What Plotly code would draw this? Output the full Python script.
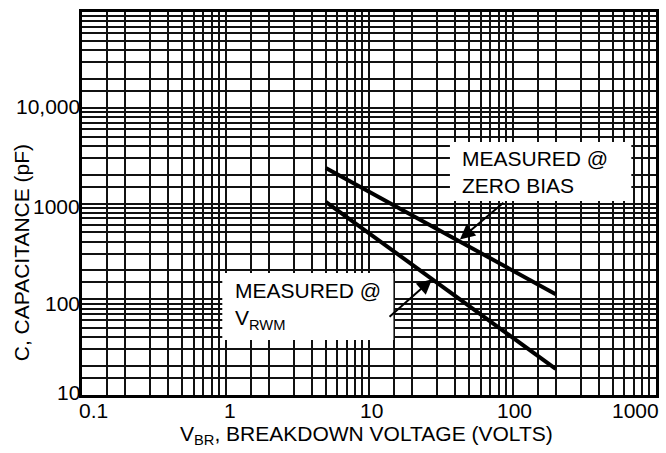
import math
import plotly.graph_objects as go

# ---------------- data ----------------
zero_bias_vbr = [5, 200]
zero_bias_cap = [2350, 113]
vrwm_vbr = [5, 200]
vrwm_cap = [1040, 18.7]

x_tick_vals = [0.1, 1, 10, 100, 1000]
x_tick_text = ["0.1", "1", "10", "100", "1000"]
y_tick_vals = [10, 100, 1000, 10000]
y_tick_text = ["10", "100", "1000", "10,000"]
grid_multipliers = [1.5, 2, 3, 4, 5, 6, 7, 8, 9]
x_decades = [0.1, 1, 10, 100]
y_decades = [10, 100, 1000, 10000]

zero_label = "MEASURED @<br>ZERO BIAS"
vrwm_label = "MEASURED @<br>V<sub>RWM</sub>"
zero_arrow_tip = (43, 420)
vrwm_arrow_tip = (27.5, 162)

x_title = "V<sub>BR</sub>, BREAKDOWN VOLTAGE (VOLTS)"
y_title = "C, CAPACITANCE (pF)"

# ---------------- styling ----------------
FONT = "Liberation Sans, Arial, Helvetica, sans-serif"
FS = 21
GRID_COLOR = "#111111"
GRID_W = 1.6

x_minor = [d * m for d in x_decades for m in grid_multipliers]
y_minor = [d * m for d in y_decades for m in grid_multipliers]

fig = go.Figure()
fig.add_trace(go.Scatter(x=zero_bias_vbr, y=zero_bias_cap, mode="lines",
                         line=dict(color="black", width=4), showlegend=False, hoverinfo="skip"))
fig.add_trace(go.Scatter(x=vrwm_vbr, y=vrwm_cap, mode="lines",
                         line=dict(color="black", width=4), showlegend=False, hoverinfo="skip"))

axis_common = dict(
    type="log", showline=True, mirror=True, linecolor="black", linewidth=2.6,
    ticks="", showticklabels=False, zeroline=False,
    showgrid=True, gridcolor=GRID_COLOR, gridwidth=GRID_W,
)
fig.update_xaxes(range=[-1, 3], tickmode="array", tickvals=x_tick_vals,
                 minor=dict(tickmode="array", tickvals=x_minor, showgrid=True,
                            gridcolor=GRID_COLOR, gridwidth=GRID_W, ticks=""),
                 **axis_common)
fig.update_yaxes(range=[1, 5], tickmode="array", tickvals=y_tick_vals + [100000],
                 minor=dict(tickmode="array", tickvals=y_minor, showgrid=True,
                            gridcolor=GRID_COLOR, gridwidth=GRID_W, ticks=""),
                 **axis_common)

annotations = []
# x tick labels
x_anchor = ["left", "center", "center", "center", "right"]
x_shift = [-5, 4, 2.5, 2, 5]
for v, t, a, s in zip(x_tick_vals, x_tick_text, x_anchor, x_shift):
    annotations.append(dict(x=math.log10(v), y=-0.041, xref="x", yref="paper",
                            text=t, showarrow=False, xanchor=a, yanchor="middle",
                            xshift=s, font=dict(family=FONT, size=FS, color="black")))
# y tick labels
y_shift = [3, -4, -3, 1]
for v, t, s in zip(y_tick_vals, y_tick_text, y_shift):
    annotations.append(dict(x=0, y=math.log10(v), xref="paper", yref="y",
                            text=t, showarrow=False, xanchor="right", yanchor="middle",
                            xshift=0, yshift=s, font=dict(family=FONT, size=FS, color="black")))
# axis titles
annotations.append(dict(x=0.4965, y=-0.1044, xref="paper", yref="paper", text=x_title,
                        showarrow=False, xanchor="center", yanchor="middle",
                        font=dict(family=FONT, size=FS, color="black")))
annotations.append(dict(x=-0.104, y=0.3708, xref="paper", yref="paper", text=y_title,
                        showarrow=False, xanchor="center", yanchor="middle", textangle=-90,
                        font=dict(family=FONT, size=FS, color="black")))
# callout labels
annotations.append(dict(x=0.6577, y=0.5822, xref="paper", yref="paper", text=zero_label,
                        showarrow=False, xanchor="left", yanchor="middle", align="left",
                        font=dict(family=FONT, size=FS, color="black")))
annotations.append(dict(x=0.2626, y=0.2324, xref="paper", yref="paper", text=vrwm_label,
                        showarrow=False, xanchor="left", yanchor="middle", align="left",
                        font=dict(family=FONT, size=FS, color="black")))
# arrows
annotations.append(dict(x=math.log10(zero_arrow_tip[0]), y=math.log10(zero_arrow_tip[1]),
                        xref="x", yref="y", text="", showarrow=True, ax=45, ay=-38,
                        arrowhead=2, arrowsize=1.5, arrowwidth=2, arrowcolor="black"))
annotations.append(dict(x=math.log10(vrwm_arrow_tip[0]), y=math.log10(vrwm_arrow_tip[1]),
                        xref="x", yref="y", text="", showarrow=True, ax=-44, ay=39,
                        arrowhead=2, arrowsize=1.5, arrowwidth=2, arrowcolor="black"))

shapes = [
    dict(type="rect", xref="paper", yref="paper", x0=0.641, x1=0.957, y0=0.5065, y1=0.6606,
         fillcolor="white", line=dict(width=0), layer="above"),
    dict(type="rect", xref="paper", yref="paper", x0=0.2444, x1=0.5425, y0=0.1436, y1=0.3185,
         fillcolor="white", line=dict(width=0), layer="above"),
]

fig.update_layout(
    width=666, height=453,
    margin=dict(l=82, r=7, t=12, b=58),
    paper_bgcolor="white", plot_bgcolor="white",
    annotations=annotations, shapes=shapes,
    font=dict(family=FONT, size=FS, color="black"),
)

fig.write_html("out.html", config={"displayModeBar": False},
               post_script="document.body.style.margin='0';document.body.style.overflow='hidden';")
